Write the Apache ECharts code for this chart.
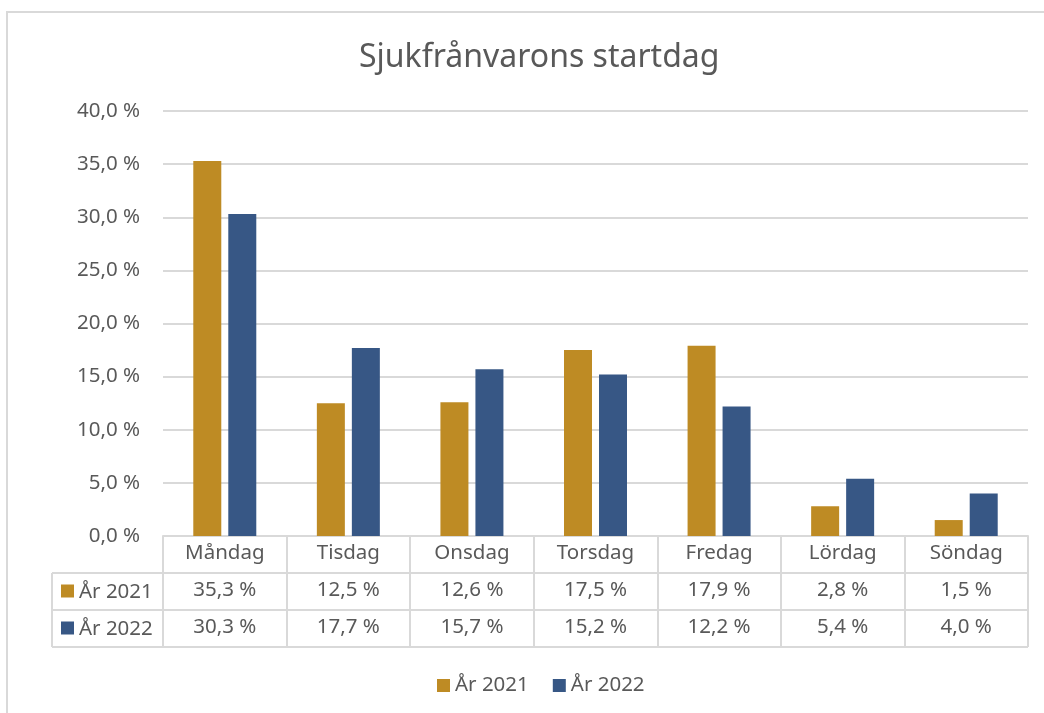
<!DOCTYPE html>
<html>
<head>
<meta charset="utf-8">
<script src="https://cdn.jsdelivr.net/npm/echarts@6/dist/echarts.min.js"></script>
<style>
  html, body { margin: 0; padding: 0; background: #fff; }
  #main { width: 1044px; height: 713px; }
</style>
</head>
<body>
<div id="main"></div>
<script>
// data
const days = ['Måndag', 'Tisdag', 'Onsdag', 'Torsdag', 'Fredag', 'Lördag', 'Söndag']
const year2021 = [35.3, 12.5, 12.6, 17.5, 17.9, 2.8, 1.5]
const year2022 = [30.3, 17.7, 15.7, 15.2, 12.2, 5.4, 4.0]
const seriesNames = ['År 2021', 'År 2022']

const GOLD = '#BE8B24'
const BLUE = '#375785'
const TEXT = '#595959'
const LINE = '#d9d9d9'
const FONT = '"Noto Sans", sans-serif'
const FS = 20.5

// plot area (px)
const gLeft = 163, gRight = 16, gTop = 111, gBottom = 177
const rowH = 37
const tableLeft = 52

const pct = v => v.toFixed(1).replace('.', ',') + ' %'

const chartDom = document.getElementById('main')
const myChart = echarts.init(chartDom)

const axisY = 713 - gBottom
const tableRight = 1044 - gRight

function rowLabel(i, color) {
  const cy = axisY + rowH * (i + 1) + rowH / 2
  return [
    { type: 'rect', shape: { x: 61, y: cy - 7, width: 13, height: 13 }, style: { fill: color } },
    { type: 'text', x: 79, y: cy + 1, style: { text: seriesNames[i], fill: TEXT, font: FS + 'px ' + FONT, textVerticalAlign: 'middle' } }
  ]
}

const hLines = [1, 2, 3].map(k => ({
  type: 'line',
  shape: { x1: tableLeft, y1: axisY + rowH * k, x2: tableRight, y2: axisY + rowH * k },
  style: { stroke: LINE, lineWidth: 2 }
}))

var option = {
  animation: false,
  textStyle: { fontFamily: FONT },
  title: {
    text: 'Sjukfrånvarons startdag',
    left: 354,
    top: 37,
    textStyle: { fontSize: 32, fontWeight: 'normal', color: TEXT, fontFamily: FONT }
  },
  legend: {
    bottom: 12,
    left: 432,
    icon: 'rect',
    itemWidth: 13,
    itemHeight: 13,
    itemGap: 24,
    textStyle: { fontSize: FS, color: TEXT, fontFamily: FONT },
    data: seriesNames
  },
  grid: { left: gLeft, right: gRight, top: gTop, bottom: gBottom, containLabel: false },
  xAxis: [
    {
      type: 'category',
      data: days,
      axisLine: { lineStyle: { color: LINE, width: 2 } },
      axisTick: { show: true, length: rowH * 3, lineStyle: { color: LINE, width: 2 } },
      axisLabel: { color: TEXT, fontSize: FS, margin: 7, fontFamily: FONT }
    },
    {
      type: 'category',
      data: year2021.map(pct),
      position: 'bottom',
      offset: rowH,
      axisLine: { show: false },
      axisTick: { show: false },
      axisLabel: { color: TEXT, fontSize: FS, margin: 7, fontFamily: FONT }
    },
    {
      type: 'category',
      data: year2022.map(pct),
      position: 'bottom',
      offset: rowH * 2,
      axisLine: { show: false },
      axisTick: { show: false },
      axisLabel: { color: TEXT, fontSize: FS, margin: 7, fontFamily: FONT }
    }
  ],
  yAxis: {
    type: 'value',
    min: 0,
    max: 40,
    interval: 5,
    axisLine: { show: false },
    axisTick: { show: false },
    splitLine: { lineStyle: { color: LINE, width: 2 } },
    axisLabel: { color: TEXT, fontSize: FS, margin: 23, formatter: pct, fontFamily: FONT }
  },
  series: [
    {
      name: seriesNames[0],
      type: 'bar',
      barWidth: 28,
      barGap: '25%',
      itemStyle: { color: GOLD },
      data: year2021
    },
    {
      name: seriesNames[1],
      type: 'bar',
      barWidth: 28,
      barGap: '25%',
      itemStyle: { color: BLUE },
      data: year2022
    }
  ],
  graphic: [
    { type: 'rect', shape: { x: 7, y: 12, width: 1100, height: 800 }, style: { fill: 'none', stroke: LINE, lineWidth: 2 }, silent: true },
    ...hLines,
    { type: 'line', shape: { x1: tableLeft, y1: axisY + rowH, x2: tableLeft, y2: axisY + rowH * 3 }, style: { stroke: LINE, lineWidth: 2 } },
    ...rowLabel(0, GOLD),
    ...rowLabel(1, BLUE)
  ]
}
option && myChart.setOption(option)
</script>
</body>
</html>
